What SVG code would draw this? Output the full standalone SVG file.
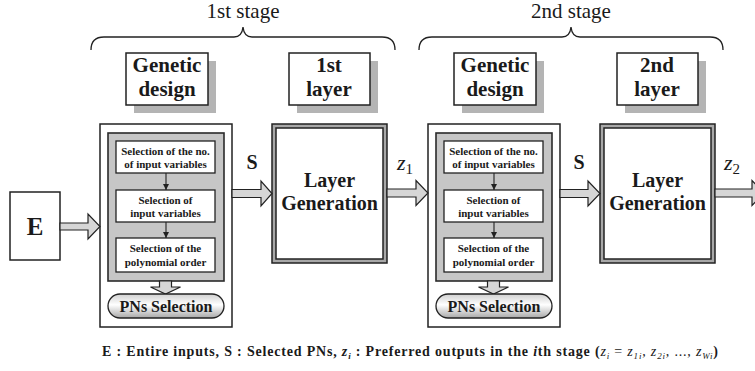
<svg xmlns="http://www.w3.org/2000/svg" width="755" height="371" viewBox="0 0 755 371">
<style>
text{font-family:"Liberation Serif","DejaVu Serif","Times New Roman",serif;fill:#1a1a1a}
.b{font-weight:bold}
.box{fill:#fff;stroke:#222;stroke-width:1.5}
.sh{fill:#b4b4b4}
.panel{fill:#c6c6c6;stroke:#2a2a2a;stroke-width:1.6}
.sub{fill:#fff;stroke:#222;stroke-width:1.3}
.big{fill:#d6d6d6;stroke:#222;stroke-width:1.2;stroke-linejoin:miter}
.brace{fill:none;stroke:#222;stroke-width:1.3}
.thin{stroke:#222;stroke-width:1.1;fill:none}
</style>
<defs>
<marker id="ah" viewBox="0 0 8 8" refX="8" refY="4" markerWidth="6" markerHeight="6" orient="auto" markerUnits="userSpaceOnUse">
<path d="M0,0 L8,4 L0,8 Z" fill="#222"/>
</marker>
<linearGradient id="pill" x1="0" y1="0" x2="0" y2="1">
<stop offset="0" stop-color="#d0d0d0"/>
<stop offset="0.45" stop-color="#ffffff"/>
<stop offset="1" stop-color="#a8a8a8"/>
</linearGradient>
</defs>

<!-- Stage labels and braces -->
<g id="stage1-label">
<path class="brace" d="M91,50 Q91,37 104,37 L234,37 Q242,37 243,27 Q244,37 252,37 L382,37 Q395,37 395,50"/>
<text x="243" y="18" font-size="21" text-anchor="middle">1st stage</text>
</g>
<g id="stage2-label">
<path class="brace" d="M419,50 Q419,37 432,37 L562,37 Q570,37 571,27 Q572,37 580,37 L710,37 Q723,37 723,50"/>
<text x="571" y="18" font-size="21" text-anchor="middle">2nd stage</text>
</g>

<!-- Header boxes -->
<g id="genetic-design-1">
<rect class="sh" x="134" y="61" width="82" height="52"/>
<rect class="box" x="126" y="53" width="82" height="52"/>
<text class="b" x="167" y="72" font-size="21" text-anchor="middle">Genetic</text>
<text class="b" x="167" y="96" font-size="21" text-anchor="middle">design</text>
</g>
<g id="layer-label-1">
<rect class="sh" x="297" y="61" width="81" height="52"/>
<rect class="box" x="289" y="53" width="81" height="52"/>
<text class="b" x="329" y="72" font-size="21" text-anchor="middle">1st</text>
<text class="b" x="329" y="96" font-size="21" text-anchor="middle">layer</text>
</g>
<g id="genetic-design-2">
<rect class="sh" x="462" y="61" width="82" height="52"/>
<rect class="box" x="454" y="53" width="82" height="52"/>
<text class="b" x="495" y="72" font-size="21" text-anchor="middle">Genetic</text>
<text class="b" x="495" y="96" font-size="21" text-anchor="middle">design</text>
</g>
<g id="layer-label-2">
<rect class="sh" x="625" y="61" width="81" height="52"/>
<rect class="box" x="617" y="53" width="81" height="52"/>
<text class="b" x="657" y="72" font-size="21" text-anchor="middle">2nd</text>
<text class="b" x="657" y="96" font-size="21" text-anchor="middle">layer</text>
</g>

<!-- E input -->
<g id="input-E">
<rect class="box" x="10" y="192" width="50" height="68"/>
<text class="b" x="35" y="235" font-size="25" text-anchor="middle">E</text>
</g>

<!-- Genetic design stage 1 -->
<g id="ga-stage-1">
<rect class="box" x="100" y="124" width="132" height="203" stroke-width="1.3"/>
<rect class="panel" x="108" y="133" width="116" height="148"/>
<rect class="sub" x="116" y="141" width="99" height="32"/>
<text class="b" x="165.5" y="155" font-size="11" text-anchor="middle">Selection of the no.</text>
<text class="b" x="165.5" y="168" font-size="11" text-anchor="middle">of input variables</text>
<rect class="sub" x="116" y="190" width="99" height="32"/>
<text class="b" x="165.5" y="204" font-size="11" text-anchor="middle">Selection of</text>
<text class="b" x="165.5" y="217" font-size="11" text-anchor="middle">input variables</text>
<rect class="sub" x="116" y="238" width="99" height="34"/>
<text class="b" x="165.5" y="252" font-size="11" text-anchor="middle">Selection of the</text>
<text class="b" x="165.5" y="266" font-size="11" text-anchor="middle">polynomial order</text>
<path class="big" d="M159.5,281 L171.5,281 L171.5,287 L180.5,287 L165.5,294 L150.5,287 L159.5,287 Z"/>
<rect x="108" y="294" width="116" height="24" rx="12" ry="12" fill="url(#pill)" stroke="#222" stroke-width="1.3"/>
<text class="b" x="166" y="312" font-size="16" text-anchor="middle">PNs Selection</text>
</g>

<!-- Layer generation 1 -->
<g id="layer-gen-1">
<rect x="272" y="124" width="115" height="139" fill="#a8a8a8" stroke="#222" stroke-width="1.5"/>
<rect x="276" y="128" width="107" height="131" fill="#fff" stroke="#222" stroke-width="1.5"/>
<text class="b" x="329.5" y="187" font-size="20" text-anchor="middle">Layer</text>
<text class="b" x="329.5" y="210" font-size="20" text-anchor="middle">Generation</text>
</g>

<!-- Genetic design stage 2 -->
<g id="ga-stage-2" transform="translate(328,0)">
<rect class="box" x="100" y="124" width="132" height="203" stroke-width="1.3"/>
<rect class="panel" x="108" y="133" width="116" height="148"/>
<rect class="sub" x="116" y="141" width="99" height="32"/>
<text class="b" x="165.5" y="155" font-size="11" text-anchor="middle">Selection of the no.</text>
<text class="b" x="165.5" y="168" font-size="11" text-anchor="middle">of input variables</text>
<rect class="sub" x="116" y="190" width="99" height="32"/>
<text class="b" x="165.5" y="204" font-size="11" text-anchor="middle">Selection of</text>
<text class="b" x="165.5" y="217" font-size="11" text-anchor="middle">input variables</text>
<rect class="sub" x="116" y="238" width="99" height="34"/>
<text class="b" x="165.5" y="252" font-size="11" text-anchor="middle">Selection of the</text>
<text class="b" x="165.5" y="266" font-size="11" text-anchor="middle">polynomial order</text>
<path class="big" d="M159.5,281 L171.5,281 L171.5,287 L180.5,287 L165.5,294 L150.5,287 L159.5,287 Z"/>
<rect x="108" y="294" width="116" height="24" rx="12" ry="12" fill="url(#pill)" stroke="#222" stroke-width="1.3"/>
<text class="b" x="166" y="312" font-size="16" text-anchor="middle">PNs Selection</text>
</g>

<!-- Layer generation 2 -->
<g id="layer-gen-2">
<rect x="600" y="124" width="115" height="139" fill="#a8a8a8" stroke="#222" stroke-width="1.5"/>
<rect x="604" y="128" width="107" height="131" fill="#fff" stroke="#222" stroke-width="1.5"/>
<text class="b" x="657.5" y="187" font-size="20" text-anchor="middle">Layer</text>
<text class="b" x="657.5" y="210" font-size="20" text-anchor="middle">Generation</text>
</g>

<!-- Connectors -->
<g id="connectors">
<line class="thin" x1="166" y1="173" x2="166" y2="190" marker-end="url(#ah)"/>
<line class="thin" x1="166" y1="222" x2="166" y2="238" marker-end="url(#ah)"/>
<line class="thin" x1="494" y1="173" x2="494" y2="190" marker-end="url(#ah)"/>
<line class="thin" x1="494" y1="222" x2="494" y2="238" marker-end="url(#ah)"/>
<path class="big" d="M60,223 L88,223 L88,214 L100,226.5 L88,239 L88,230 L60,230 Z"/>
<path class="big" d="M232,189.5 L261,189.5 L261,181 L272,193.5 L261,206 L261,197.5 L232,197.5 Z"/>
<path class="big" d="M387,189 L416,189 L416,180.5 L428,193 L416,205.5 L416,197 L387,197 Z"/>
<path class="big" d="M560,189.5 L588,189.5 L588,181 L600,193.5 L588,206 L588,197.5 L560,197.5 Z"/>
<path class="big" d="M715,189 L752,189 L752,180.5 L764,193 L752,205.5 L752,197 L715,197 Z"/>
<text class="b" x="252" y="169" font-size="20" text-anchor="middle">S</text>
<text class="b" x="579" y="169" font-size="20" text-anchor="middle">S</text>
<text x="397" y="170" font-size="22" font-style="italic">z<tspan font-size="15" font-style="normal" dy="4">1</tspan></text>
<text x="724" y="170" font-size="22" font-style="italic">z<tspan font-size="15" font-style="normal" dy="4">2</tspan></text>
</g>

<!-- Caption -->
<text class="b" x="102" y="356" font-size="14" textLength="616" lengthAdjust="spacing">E : Entire inputs, S : Selected PNs, <tspan font-style="italic">z</tspan><tspan font-size="9" font-style="italic" dy="3">i</tspan><tspan dy="-3"> : Preferred outputs in the </tspan><tspan font-style="italic">i</tspan>th stage (<tspan font-weight="normal" font-style="italic">z</tspan><tspan font-weight="normal" font-style="italic" font-size="9" dy="3">i</tspan><tspan font-weight="normal" dy="-3"> = </tspan><tspan font-weight="normal" font-style="italic">z</tspan><tspan font-weight="normal" font-style="italic" font-size="9" dy="3">1i</tspan><tspan font-weight="normal" dy="-3">, </tspan><tspan font-weight="normal" font-style="italic">z</tspan><tspan font-weight="normal" font-style="italic" font-size="9" dy="3">2i</tspan><tspan font-weight="normal" dy="-3">, ..., </tspan><tspan font-weight="normal" font-style="italic">z</tspan><tspan font-weight="normal" font-style="italic" font-size="9" dy="3">Wi</tspan><tspan dy="-3">)</tspan></text>
</svg>
